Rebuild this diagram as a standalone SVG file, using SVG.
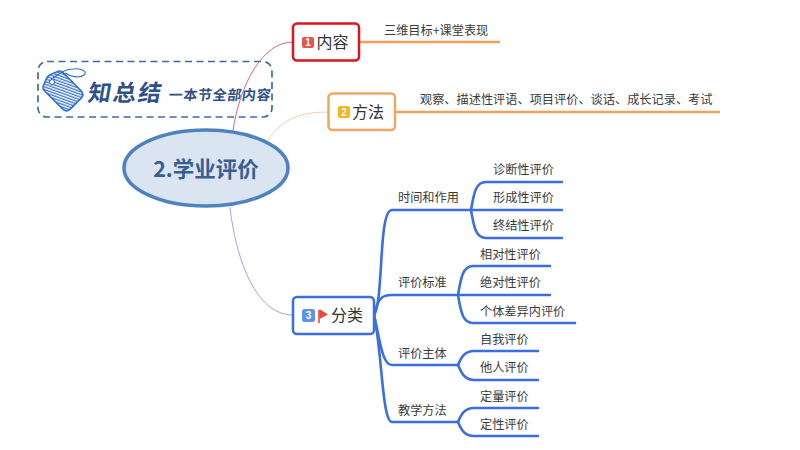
<svg xmlns="http://www.w3.org/2000/svg" width="800" height="450" viewBox="0 0 800 450">
<style>
text{font-family:"Noto Sans CJK SC","Noto Sans",sans-serif;fill:#3a3a3a}
.l{font-size:12.2px}
.t{font-size:16px;fill:#333}
.n{fill:#fff;stroke-width:2.5}
.b{fill:none;stroke:#3b6ee0;stroke-width:2.6;stroke-linecap:round}
.o{fill:none;stroke:#f0a15c;stroke-width:2.6}
.badge{font-family:"Liberation Sans",sans-serif;font-size:10px;font-weight:700;fill:#fff;text-anchor:middle}
.deco{font-weight:700;fill:#2f5189}
</style>
<defs>
<pattern id="hatch" width="2.600" height="2.600" patternUnits="userSpaceOnUse" patternTransform="rotate(-25)">
<rect width="2.600" height="2.600" fill="#fff"/><rect width="1.300" height="2.600" fill="#3f78c9"/>
</pattern>
</defs>
<g id="callout">
<rect x="38" y="61.500" width="234" height="55.500" rx="9" fill="#fff" stroke="#41699f" stroke-width="1.700" stroke-dasharray="7 4.500"/>
<g transform="rotate(-45 63 91)">
<path d="M50 78Q50 74 54 73L59 71Q63 69 67 71L72 73Q76 74 76 78V103Q76 109 70 109H56Q50 109 50 103Z" fill="url(#hatch)" stroke="#2f6fcb" stroke-width="1.600"/>
<circle cx="61.500" cy="77" r="2.500" fill="#fff" stroke="#2f6fcb"/>
</g>
<path d="M53 78C58 74 66 69 73 69C82 68 88 72 84 75C79 79 70 76 65 73" fill="none" stroke="#2f6fcb" stroke-width="1.100"/>
<text class="deco" transform="translate(87 101) skewX(-10)" font-size="23" textLength="73">知总结</text>
<text class="deco" transform="translate(168 100) skewX(-8)" font-size="14" textLength="102">一本节全部内容</text>
</g>
<g id="connectors">
<path d="M233 130C240 85 262 42 293 42" fill="none" stroke="#d8687a" stroke-width="1"/>
<path d="M268 140C280 122 296 112 328 112" fill="none" stroke="#f2cfa8" stroke-width="1"/>
<path d="M230 207C236 260 256 315 293 315" fill="none" stroke="#9fa8e0" stroke-width="1"/>
<path class="o" d="M359 42H500"/>
<path class="o" d="M395 112H720"/>
<path class="b" d="M374 315C384 300 378 210 392 210H562"/>
<path class="b" d="M374 315C378 298 382 295 392 295H550"/>
<path class="b" d="M374 315C380 340 382 365 392 365H458"/>
<path class="b" d="M374 315C382 350 382 422 392 422H458"/>
<path class="b" d="M471 210C474 192 476 182 486 182H562"/>
<path class="b" d="M471 210C474 228 476 238 486 238H562"/>
<path class="b" d="M458 295C461 277 463 266 473 266H550"/>
<path class="b" d="M458 295C461 313 463 323 473 323H575"/>
<path class="b" d="M458 365C461 358 464 351 474 351H538"/>
<path class="b" d="M458 365C461 372 464 380 474 380H538"/>
<path class="b" d="M458 422C461 415 464 408 474 408H538"/>
<path class="b" d="M458 422C461 429 464 436 474 436H538"/>
</g>
<g id="root">
<ellipse cx="206" cy="168" rx="82" ry="38" fill="#dbe5f1" stroke="#4f83c0" stroke-width="3.600"/>
<text x="206" y="176.500" font-size="21.500" font-weight="700" text-anchor="middle" style="fill:#37608f">2.学业评价</text>
</g>
<g id="node-1">
<rect class="n" x="293" y="23.500" width="66" height="37" rx="4" stroke="#d9171e"/>
<rect x="302" y="37" width="12" height="11" rx="2" fill="#e8524f"/>
<text class="badge" x="308" y="46">1</text>
<text class="t" x="316.500" y="48">内容</text>
</g>
<g id="node-2">
<rect class="n" x="328.500" y="93.500" width="66.500" height="36.500" rx="4" stroke="#f0a860"/>
<rect x="338" y="106" width="12" height="12" rx="2" fill="#f9b51d"/>
<text class="badge" x="344" y="115.500">2</text>
<text class="t" x="352" y="118">方法</text>
</g>
<g id="node-3">
<rect class="n" x="293" y="297" width="81" height="37" rx="4" stroke="#3b6ee0"/>
<rect x="302" y="309" width="13" height="13" rx="2.500" fill="#5b94ea"/>
<text class="badge" x="308.500" y="319">3</text>
<path d="M319 310V323" stroke="#e8483f" stroke-width="1.600"/>
<path d="M319.500 309L328 314.500L319.500 319Z" fill="#e8483f"/>
<text class="t" x="331" y="321">分类</text>
</g>
<g id="leaf-a"><text class="l" x="384" y="34.500">三维目标+课堂表现</text></g>
<g id="leaf-b"><text class="l" x="420" y="103.500">观察、描述性评语、项目评价、谈话、成长记录、考试</text></g>
<g id="branch-1"><text class="l" x="398" y="201.500">时间和作用</text></g>
<g id="leaf-1"><text class="l" x="493" y="173.500">诊断性评价</text></g>
<g id="leaf-2"><text class="l" x="493" y="201.500">形成性评价</text></g>
<g id="leaf-3"><text class="l" x="493" y="229.500">终结性评价</text></g>
<g id="branch-2"><text class="l" x="398" y="287">评价标准</text></g>
<g id="leaf-4"><text class="l" x="480" y="258.500">相对性评价</text></g>
<g id="leaf-5"><text class="l" x="480" y="286.500">绝对性评价</text></g>
<g id="leaf-6"><text class="l" x="480" y="315.500">个体差异内评价</text></g>
<g id="branch-3"><text class="l" x="398" y="357.500">评价主体</text></g>
<g id="leaf-7"><text class="l" x="480" y="343.500">自我评价</text></g>
<g id="leaf-8"><text class="l" x="480" y="371.500">他人评价</text></g>
<g id="branch-4"><text class="l" x="398" y="414.500">教学方法</text></g>
<g id="leaf-9"><text class="l" x="480" y="400.500">定量评价</text></g>
<g id="leaf-10"><text class="l" x="480" y="428.500">定性评价</text></g>
</svg>
